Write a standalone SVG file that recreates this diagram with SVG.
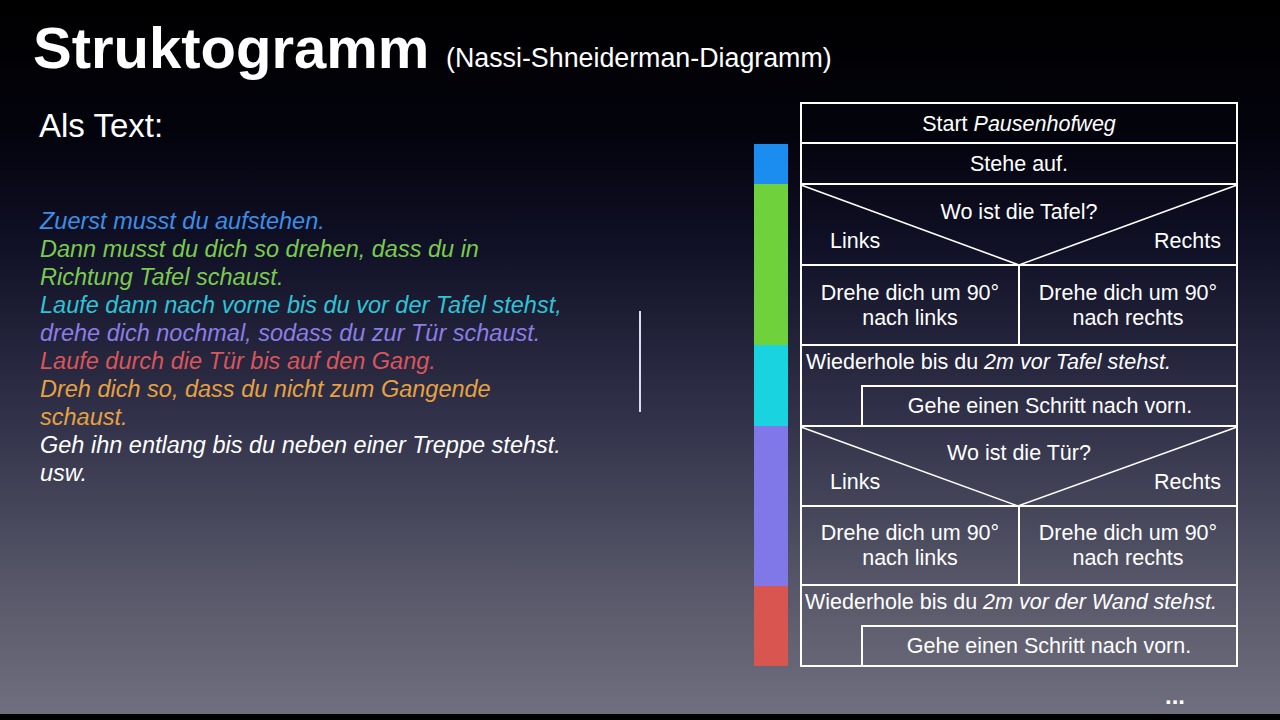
<svg xmlns="http://www.w3.org/2000/svg" width="1280" height="720" viewBox="0 0 1280 720">
<defs>
<linearGradient id="bg" x1="0" y1="0" x2="0" y2="1">
<stop offset="0" stop-color="#000000"/>
<stop offset="0.18" stop-color="#03030c"/>
<stop offset="0.35" stop-color="#111128"/>
<stop offset="0.6" stop-color="#34344c"/>
<stop offset="0.8" stop-color="#555567"/>
<stop offset="1" stop-color="#707080"/>
</linearGradient>
<style>
text{font-family:"Liberation Sans",Arial,sans-serif;}
.cell{fill:none;stroke:#ffffff;stroke-width:2;}
.ln{stroke:#ffffff;stroke-width:1.6;fill:none;}
.d{fill:#ffffff;font-size:21.5px;}
.c{text-anchor:middle;}
.e{text-anchor:end;}
.t{font-size:23.5px;font-style:italic;}
</style>
</defs>
<rect x="0" y="0" width="1280" height="720" fill="url(#bg)"/>
<rect x="0" y="714" width="1280" height="6" fill="#000000"/>

<g id="title">
<text x="33" y="68" font-size="58" font-weight="bold" fill="#ffffff">Struktogramm</text>
<text x="446" y="67" font-size="26.8" fill="#ffffff">(Nassi-Shneiderman-Diagramm)</text>
</g>

<g id="als-text">
<text x="39" y="137" font-size="33" fill="#ffffff">Als Text:</text>
<text class="t" x="40" y="229" fill="#3b8fe6">Zuerst musst du aufstehen.</text>
<text class="t" x="40" y="257" fill="#7acb4e">Dann musst du dich so drehen, dass du in</text>
<text class="t" x="40" y="285" fill="#7acb4e">Richtung Tafel schaust.</text>
<text class="t" x="40" y="313" fill="#2ec4d6">Laufe dann nach vorne bis du vor der Tafel stehst,</text>
<text class="t" x="40" y="341" fill="#8a7ee6">drehe dich nochmal, sodass du zur Tür schaust.</text>
<text class="t" x="40" y="369" fill="#d8565c">Laufe durch die Tür bis auf den Gang.</text>
<text class="t" x="40" y="397" fill="#e5a142">Dreh dich so, dass du nicht zum Gangende</text>
<text class="t" x="40" y="425" fill="#e5a142">schaust.</text>
<text class="t" x="40" y="453" fill="#ffffff">Geh ihn entlang bis du neben einer Treppe stehst.</text>
<text class="t" x="40" y="481" fill="#ffffff">usw.</text>
</g>

<g id="cursor">
<rect x="639" y="311" width="2" height="101" fill="#dcdcf4"/>
</g>

<g id="color-bars">
<rect x="754" y="144" width="34" height="40" fill="#1b8cf0"/>
<rect x="754" y="184" width="34" height="161" fill="#6fd23c"/>
<rect x="754" y="345" width="34" height="81" fill="#19d4e0"/>
<rect x="754" y="426" width="34" height="160" fill="#8078e8"/>
<rect x="754" y="586" width="34" height="80" fill="#d85550"/>
</g>

<g id="start">
<rect class="cell" x="801" y="103" width="436" height="40"/>
<text class="d c" x="1019" y="131">Start <tspan font-style="italic">Pausenhofweg</tspan></text>
</g>

<g id="stehe-auf">
<rect class="cell" x="801" y="143" width="436" height="41"/>
<text class="d c" x="1019" y="171">Stehe auf.</text>
</g>

<g id="decision-tafel">
<rect class="cell" x="801" y="184" width="436" height="81"/>
<polyline class="ln" points="801,185 1019,265 1237,185"/>
<text class="d c" x="1019" y="219">Wo ist die Tafel?</text>
<text class="d" x="830" y="248">Links</text>
<text class="d e" x="1221" y="248">Rechts</text>
</g>

<g id="tafel-links">
<rect class="cell" x="801" y="265" width="218" height="80"/>
<text class="d c" x="910" y="300">Drehe dich um 90°</text>
<text class="d c" x="910" y="325">nach links</text>
</g>
<g id="tafel-rechts">
<rect class="cell" x="1019" y="265" width="218" height="80"/>
<text class="d c" x="1128" y="300">Drehe dich um 90°</text>
<text class="d c" x="1128" y="325">nach rechts</text>
</g>

<g id="loop-tafel">
<path class="cell" d="M801,345 H1237 V386 H862 V426 H801 Z"/>
<text class="d" x="806" y="369">Wiederhole bis du <tspan font-style="italic">2m vor Tafel stehst.</tspan></text>
</g>
<g id="schritt-1">
<rect class="cell" x="862" y="386" width="375" height="40"/>
<text class="d c" x="1050" y="413">Gehe einen Schritt nach vorn.</text>
</g>

<g id="decision-tuer">
<rect class="cell" x="801" y="426" width="436" height="80"/>
<polyline class="ln" points="801,427 1018,506 1237,427"/>
<text class="d c" x="1019" y="460">Wo ist die Tür?</text>
<text class="d" x="830" y="489">Links</text>
<text class="d e" x="1221" y="489">Rechts</text>
</g>

<g id="tuer-links">
<rect class="cell" x="801" y="506" width="218" height="79"/>
<text class="d c" x="910" y="540">Drehe dich um 90°</text>
<text class="d c" x="910" y="565">nach links</text>
</g>
<g id="tuer-rechts">
<rect class="cell" x="1019" y="506" width="218" height="79"/>
<text class="d c" x="1128" y="540">Drehe dich um 90°</text>
<text class="d c" x="1128" y="565">nach rechts</text>
</g>

<g id="loop-wand">
<path class="cell" d="M801,585 H1237 V626 H862 V666 H801 Z"/>
<text class="d" x="805" y="609">Wiederhole bis du <tspan font-style="italic">2m vor der Wand stehst.</tspan></text>
</g>
<g id="schritt-2">
<rect class="cell" x="862" y="626" width="375" height="40"/>
<text class="d c" x="1049" y="653">Gehe einen Schritt nach vorn.</text>
</g>

<g id="connectors"></g>

<text x="1175" y="704" font-size="24" font-weight="bold" fill="#ffffff" class="c">...</text>
</svg>
